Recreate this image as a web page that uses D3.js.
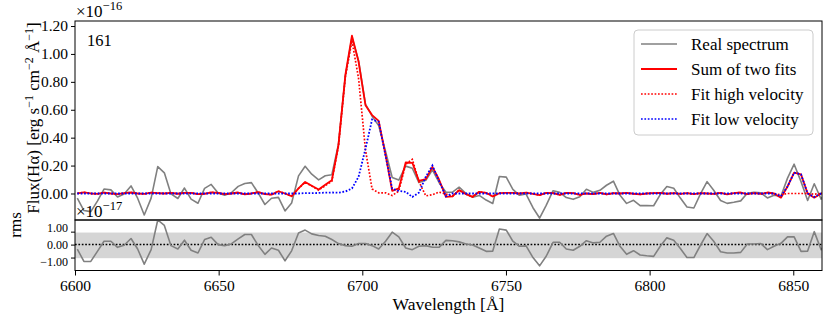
<!DOCTYPE html>
<html><head><meta charset="utf-8">
<script src="https://cdn.jsdelivr.net/npm/d3@7"></script>
<style>
body{margin:0;background:#fff}
text{font-family:"Liberation Serif","DejaVu Serif",serif;fill:#000}
</style>
</head><body><svg id="c" width="831" height="324"></svg>
<script>
// ---------------- data ----------------
const wavelength=[6600.8,6603.1,6605.5,6607.8,6610.1,6612.5,6614.8,6617.1,6619.5,6621.8,
6624.1,6626.5,6628.8,6631.1,6633.4,6635.8,6638.1,6640.4,6642.8,6645.1,
6647.4,6649.8,6652.1,6654.4,6656.8,6659.1,6661.4,6663.8,6666.1,6668.4,
6670.8,6673.1,6675.4,6677.8,6680.1,6682.4,6684.8,6687.1,6689.4,6691.7,
6694.1,6696.4,6698.7,6701.1,6703.4,6705.7,6708.1,6710.4,6712.7,6715.1,
6717.4,6719.7,6722.1,6724.4,6726.7,6729.1,6731.4,6733.7,6736.1,6738.4,
6740.7,6743.1,6745.4,6747.7,6750.1,6752.4,6754.7,6757.0,6759.4,6761.7,
6764.0,6766.4,6768.7,6771.0,6773.4,6775.7,6778.0,6780.4,6782.7,6785.0,
6787.4,6789.7,6792.0,6794.4,6796.7,6799.0,6801.4,6803.7,6806.0,6808.4,
6810.7,6813.0,6815.4,6817.7,6820.0,6822.3,6824.7,6827.0,6829.3,6831.7,
6834.0,6836.3,6838.7,6841.0,6843.3,6845.7,6848.0,6850.3,6852.7,6855.0,
6857.3,6859.7,6862.0];

// flux in units of 1e-16
const realFlux=[-0.034,-0.122,-0.130,-0.055,0.032,0.026,-0.025,-0.003,0.054,-0.034,
-0.154,-0.033,0.193,0.148,-0.003,-0.036,0.039,-0.040,-0.070,0.037,
0.065,0.004,-0.012,0.005,0.051,0.072,0.078,0.002,-0.079,-0.034,
-0.028,-0.125,-0.068,0.126,0.195,0.138,0.098,0.127,0.134,0.354,
0.841,1.118,0.952,0.641,0.554,0.486,0.301,0.115,0.096,0.196,
0.181,0.078,0.095,0.170,0.079,0.009,0.010,0.045,0.000,-0.027,
-0.014,-0.047,-0.072,0.122,0.117,0.030,-0.013,-0.004,-0.102,-0.176,
-0.085,0.020,0.008,-0.029,-0.042,-0.023,0.030,0.008,0.023,0.059,
0.088,-0.013,-0.071,-0.049,-0.087,-0.086,-0.088,-0.008,0.050,0.037,
-0.033,-0.097,-0.104,-0.003,0.085,0.023,-0.050,-0.071,-0.063,-0.053,
0.001,0.008,0.005,-0.032,-0.013,-0.020,0.110,0.210,0.085,-0.050,
0.070,-0.040,0.030];

const sumFit=[0.000,0.008,0.000,-0.003,0.006,0.000,-0.004,0.002,0.007,0.000,
-0.003,0.006,0.003,0.000,0.005,-0.002,0.005,0.004,-0.005,-0.002,
0.008,0.004,-0.004,0.000,0.007,-0.006,0.000,0.010,-0.004,-0.008,
0.016,0.000,-0.020,0.036,0.083,0.055,0.028,0.062,0.095,0.346,
0.849,1.131,0.944,0.633,0.562,0.520,0.275,0.019,0.036,0.222,
0.220,0.091,0.103,0.191,0.100,-0.024,-0.020,0.024,-0.005,-0.024,
0.012,0.005,-0.022,0.002,0.005,0.004,0.000,0.006,-0.002,-0.012,
0.005,0.002,-0.010,0.005,0.002,-0.010,0.000,-0.005,0.005,-0.006,
0.002,0.000,0.004,-0.002,-0.007,0.000,0.003,0.005,-0.002,0.003,
-0.003,0.003,-0.004,0.002,0.000,-0.003,0.005,-0.006,0.002,0.007,
-0.004,0.003,-0.003,0.007,0.000,-0.030,0.050,0.150,0.137,0.000,
-0.030,0.000,0.000];

const highFit=[0.000,0.008,0.000,-0.003,0.006,0.000,-0.004,0.002,0.007,0.000,
-0.003,0.006,0.003,0.000,0.005,-0.002,0.005,0.004,-0.005,-0.002,
0.008,0.004,-0.004,0.000,0.007,-0.006,0.000,0.010,-0.004,-0.008,
0.016,0.000,-0.020,0.036,0.080,0.053,0.024,0.056,0.088,0.340,
0.835,1.095,0.824,0.313,0.032,0.005,0.005,-0.015,0.018,0.210,
0.245,0.085,-0.017,-0.009,0.010,-0.004,-0.020,0.024,-0.005,-0.024,
0.012,0.005,-0.022,0.002,0.005,0.004,0.000,0.006,-0.002,-0.012,
0.005,0.002,-0.010,0.005,0.002,-0.010,0.000,-0.005,0.005,-0.006,
0.002,0.000,0.004,-0.002,-0.007,0.000,0.003,0.005,-0.002,0.003,
-0.003,0.003,-0.004,0.002,0.000,-0.003,0.005,-0.006,0.002,0.007,
-0.004,0.003,-0.003,0.007,0.000,-0.010,0.000,0.000,0.000,0.000,
-0.005,0.000,0.000];

const lowFit=[0,0,0,0,0,0,0,0,0,0,
0,0,0,0,0,0,0,0,0,0,
0,0,0,0,0,0,0,0,0,0,
0,0,0,0,0.003,0.002,0.004,0.006,0.007,0.006,
0.014,0.036,0.120,0.320,0.530,0.515,0.270,0.034,0.018,0.012,
-0.025,0.006,0.120,0.200,0.090,-0.020,0,0,0,0,
0,0,0,0,0,0,0,0,0,0,
0,0,0,0,0,0,0,0,0,0,
0,0,0,0,0,0,0,0,0,0,
0,0,0,0,0,0,0,0,0,0,
0,0,0,0,0,-0.020,0.050,0.150,0.137,0.000,
-0.025,0,0];

// residuals in units of 1e-17
const rms=[-0.34,-1.30,-1.30,-0.52,0.26,0.26,-0.21,-0.05,0.47,-0.34,
-1.51,-0.39,1.90,1.48,-0.08,-0.34,0.34,-0.44,-0.65,0.39,
0.57,0.00,-0.08,0.05,0.44,0.78,0.78,-0.08,-0.75,-0.26,
-0.44,-1.25,-0.48,0.90,1.12,0.83,0.70,0.65,0.39,0.08,
-0.08,-0.13,0.08,0.08,-0.08,-0.34,0.26,0.96,0.60,-0.26,
-0.39,-0.13,-0.08,-0.21,-0.21,0.33,0.30,0.21,0.05,-0.03,
-0.26,-0.52,-0.50,1.20,1.12,0.26,-0.13,-0.10,-1.00,-1.64,
-0.90,0.18,0.18,-0.34,-0.44,-0.13,0.30,0.13,0.18,0.65,
0.86,-0.13,-0.75,-0.47,-0.80,-0.86,-0.91,-0.13,0.52,0.34,
-0.30,-1.00,-1.00,-0.05,0.85,0.26,-0.55,-0.65,-0.65,-0.60,
0.05,0.05,0.08,-0.39,-0.13,0.10,0.60,0.60,-0.52,-0.50,
1.00,-0.40,0.30];

const rmsBand=[-1.05,0.93];
const fluxTicks=[0,0.2,0.4,0.6,0.8,1.0,1.2];
const rmsTicks=[-1,0,1];
const waveTicks=[6600,6650,6700,6750,6800,6850];
const legendLabels=["Real spectrum","Sum of two fits","Fit high velocity","Fit low velocity"];
const panelLabel="161";

// ---------------- layout ----------------
const svg=d3.select("#c");
const L=75,R=822,T1=21,B1=220,T2=220,B2=270.5;
const FS=15.5;
const DOT="1.7,1.7";
const x=d3.scaleLinear().domain([6600,6860]).range([L,R]);
const yT=d3.scaleLinear().domain([-0.19,1.236]).range([B1,T1]);
const yB=d3.scaleLinear().domain([-2.0,1.9]).range([B2,T2]);

const defs=svg.append("defs");
defs.append("clipPath").attr("id","clipT").append("rect").attr("x",L).attr("y",T1).attr("width",R-L).attr("height",B1-T1);
defs.append("clipPath").attr("id","clipB").append("rect").attr("x",L).attr("y",T2).attr("width",R-L).attr("height",B2-T2);

const pts=(arr)=>wavelength.map((w,i)=>[w,arr[i]]);

// ---------- top panel ----------
const gT=svg.append("g").attr("clip-path","url(#clipT)");
const lineT=d3.line().x(d=>x(d[0])).y(d=>yT(d[1]));
gT.append("path").attr("d",lineT(pts(realFlux))).attr("fill","none").attr("stroke","#808080").attr("stroke-width",1.6).attr("stroke-linejoin","round");
gT.append("path").attr("d",lineT(pts(sumFit))).attr("fill","none").attr("stroke","#ff0000").attr("stroke-width",1.8).attr("stroke-linejoin","round");
gT.append("path").attr("d",lineT(pts(highFit))).attr("fill","none").attr("stroke","#ff0000").attr("stroke-width",1.7).attr("stroke-dasharray",DOT);
gT.append("path").attr("d",lineT(pts(lowFit))).attr("fill","none").attr("stroke","#0000ff").attr("stroke-width",1.8).attr("stroke-dasharray",DOT);

svg.append("rect").attr("x",L).attr("y",T1).attr("width",R-L).attr("height",B1-T1).attr("fill","none").attr("stroke","#000").attr("stroke-width",1);

const axT=svg.append("g").attr("transform",`translate(${L},0)`)
  .call(d3.axisLeft(yT).tickValues(fluxTicks).tickFormat(d3.format(".2f")).tickSize(4).tickPadding(3));
axT.select(".domain").remove();
axT.selectAll("text").style("font-size",FS+"px").style("font-family",'"Liberation Serif",serif');
axT.selectAll("line").attr("stroke","#000");

// offset text top
const off1=svg.append("text").attr("x",L+1).attr("y",17).style("font-size","17px");
off1.append("tspan").text("×10");
off1.append("tspan").attr("dy",-7).style("font-size","12.5px").text("−16");

svg.append("text").attr("x",87).attr("y",46).style("font-size","16.5px").text(panelLabel);

// y label top
const yl=svg.append("text").attr("transform","translate(39,118) rotate(-90)").attr("text-anchor","middle").style("font-size","17px");
yl.append("tspan").text("Flux(Hα) [erg s");
yl.append("tspan").attr("dy",-6).style("font-size","12px").text("−1");
yl.append("tspan").attr("dy",6).text(" cm");
yl.append("tspan").attr("dy",-6).style("font-size","12px").text("−2");
yl.append("tspan").attr("dy",6).text(" Å");
yl.append("tspan").attr("dy",-6).style("font-size","12px").text("−1");
yl.append("tspan").attr("dy",6).text("]");

// legend
const lg=svg.append("g");
lg.append("rect").attr("x",634).attr("y",30).attr("width",179).attr("height",105).attr("rx",4)
  .attr("fill","#fff").attr("fill-opacity",0.8).attr("stroke","#cccccc").attr("stroke-width",1);
const legStyles=[
  {c:"#808080",w:1.6,d:null},
  {c:"#ff0000",w:1.8,d:null},
  {c:"#ff0000",w:1.7,d:DOT},
  {c:"#0000ff",w:1.7,d:DOT}];
legendLabels.forEach((t,i)=>{
  const yy=44+i*25;
  const ln=lg.append("line").attr("x1",641).attr("x2",677).attr("y1",yy).attr("y2",yy)
    .attr("stroke",legStyles[i].c).attr("stroke-width",legStyles[i].w);
  if(legStyles[i].d) ln.attr("stroke-dasharray",legStyles[i].d);
  lg.append("text").attr("x",691).attr("y",yy+5.5).style("font-size","17px").text(t);
});

// ---------- bottom panel ----------
const gB=svg.append("g").attr("clip-path","url(#clipB)");
gB.append("rect").attr("x",L).attr("width",R-L).attr("y",yB(rmsBand[1])).attr("height",yB(rmsBand[0])-yB(rmsBand[1])).attr("fill","#d5d5d5");
gB.append("line").attr("x1",L).attr("x2",R).attr("y1",yB(0)).attr("y2",yB(0)).attr("stroke","#000").attr("stroke-width",1.5).attr("stroke-dasharray",DOT);
const lineB=d3.line().x(d=>x(d[0])).y(d=>yB(d[1]));
gB.append("path").attr("d",lineB(pts(rms))).attr("fill","none").attr("stroke","#808080").attr("stroke-width",1.6).attr("stroke-linejoin","round");

svg.append("rect").attr("x",L).attr("y",T2).attr("width",R-L).attr("height",B2-T2).attr("fill","none").attr("stroke","#000").attr("stroke-width",1);

const axB=svg.append("g").attr("transform",`translate(${L},0)`)
  .call(d3.axisLeft(yB).tickValues(rmsTicks).tickFormat(d3.format(".2f")).tickSize(4).tickPadding(3));
axB.select(".domain").remove();
axB.selectAll("text").style("font-size","12px").style("font-family",'"Liberation Serif",serif')
  .attr("dy",d=>d>0?"-0.05em":(d<0?"0.7em":"0.32em"));

const axX=svg.append("g").attr("transform",`translate(0,${B2})`)
  .call(d3.axisBottom(x).tickValues(waveTicks).tickFormat(d3.format("d")).tickSize(5).tickPadding(4));
axX.select(".domain").remove();
axX.selectAll("text").style("font-size",FS+"px").style("font-family",'"Liberation Serif",serif');

const off2=svg.append("text").attr("x",L+1).attr("y",217).style("font-size","17px");
off2.append("tspan").text("×10");
off2.append("tspan").attr("dy",-7).style("font-size","12.5px").text("−17");

svg.append("text").attr("transform","translate(21,225) rotate(-90)").attr("text-anchor","middle").style("font-size","17px").text("rms");

svg.append("text").attr("x",448.5).attr("y",310).attr("text-anchor","middle").style("font-size","17.5px").text("Wavelength [Å]");
</script>
</body></html>
